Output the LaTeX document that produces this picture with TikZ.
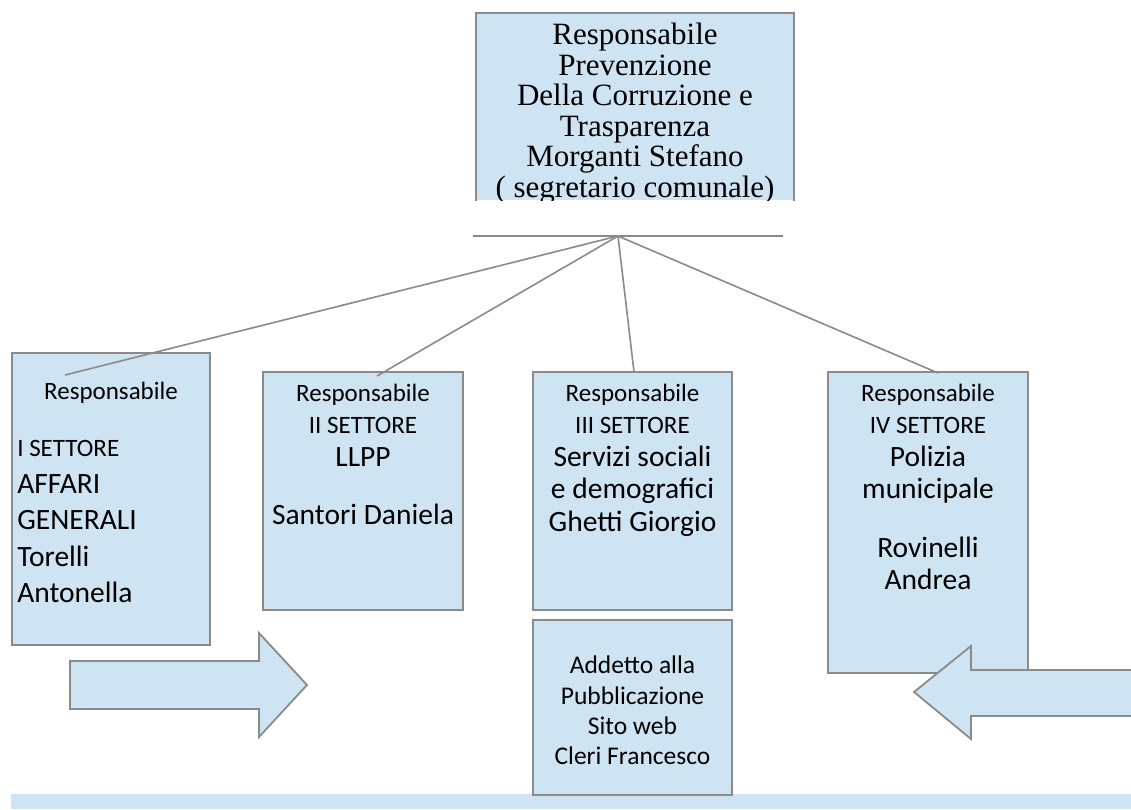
\documentclass[tikz,border=0pt]{standalone}
\usepackage{fontspec}
\setmainfont{Carlito}
\newfontfamily\serifrm{Liberation Serif}
\usepackage{tikz}
\usetikzlibrary{positioning}
\definecolor{boxblue}{RGB}{207,228,242}
\definecolor{linegray}{RGB}{138,138,138}
\newcommand{\bigtxt}[1]{{\fontsize{29.5}{36}\selectfont #1}}

\begin{document}
\begin{tikzpicture}[
    x=1pt, y=-1pt,
    box/.style={draw=linegray, line width=1.8pt, fill=boxblue, inner sep=0pt},
    txt/.style={inner sep=0pt, align=center, font=\fontsize{25}{32.5}\selectfont},
    conn/.style={draw=linegray, line width=1.6pt},
    blockarrow/.style={draw=linegray, line width=1.8pt, fill=boxblue}
  ]
  \useasboundingbox (0,0) rectangle (1131,809);
  \fill[boxblue] (11,794) rectangle (1131,809);

  % responsabile anticorruzione
  \node[box, draw=none, minimum width=316pt, minimum height=186pt] (rpct) at (635,107) {};
  \draw[box, fill=none] (rpct.south west) -- (rpct.north west) -- (rpct.north east) -- (rpct.south east);
  \begin{scope}
    \clip (rpct.south west) rectangle (rpct.north east);
    \node[txt, font=\serifrm\fontsize{31}{30.5}\selectfont, below=10pt of rpct.north] (rpcttxt)
      {Responsabile\\Prevenzione\\Della Corruzione e\\Trasparenza\\Morganti Stefano\\( segretario comunale)};
  \end{scope}

  \coordinate (hl) at (473,236);
  \coordinate (hr) at (783,236);
  \coordinate (apex) at (618,236);
  \draw[conn, line width=1.2pt] (hl) -- (hr);

  % settori
  \node[box, minimum width=198pt, minimum height=292pt] (s1) at (111,499) {};
  \node[box, minimum width=200pt, minimum height=238pt] (s2) at (363,491) {};
  \node[box, minimum width=199pt, minimum height=238pt] (s3) at (632.5,491) {};
  \node[box, minimum width=200pt, minimum height=301pt] (s4) at (928,522.5) {};
  \node[box, minimum width=199pt, minimum height=175pt, below=8pt of s3] (pub) {};

  \node[txt, below=29.5pt of s1.north] (t1a) {Responsabile};
  \node[txt, align=left, font=\fontsize{25}{36.5}\selectfont, below right=88pt and 6pt of s1.north west] (t1b)
    {I SETTORE\\\bigtxt{AFFARI}\\\bigtxt{GENERALI}\\\bigtxt{Torelli}\\\bigtxt{Antonella}};
  \node[txt, below=12.5pt of s2.north] (t2)
    {Responsabile\\II SETTORE\\\bigtxt{LLPP}\\[25.5pt]\bigtxt{Santori Daniela}};
  \node[txt, below=12.5pt of s3.north] (t3)
    {Responsabile\\III SETTORE\\\bigtxt{Servizi sociali}\\\bigtxt{e demografici}\\\bigtxt{Ghetti Giorgio}};
  \node[txt, below=12.5pt of s4.north] (t4)
    {Responsabile\\IV SETTORE\\\bigtxt{Polizia}\\\bigtxt{municipale}\\[26pt]\bigtxt{Rovinelli}\\\bigtxt{Andrea}};
  \node[txt, font=\fontsize{25.5}{30.3}\selectfont, below=37pt of pub.north] (tpub)
    {Addetto alla\\Pubblicazione\\Sito web\\Cleri Francesco};

  % collegamenti
  \coordinate (e1) at (65,375);
  \coordinate (e2) at (377,376);
  \coordinate (e3) at (634,372);
  \coordinate (e4) at (938,373);
  \foreach \e in {e1,e2,e3,e4}
    \draw[conn] (apex) -- (\e);

  % frecce
  \filldraw[blockarrow] (70,661) -- (259,661) -- (259,633) -- (307,685) -- (259,737) -- (259,709) -- (70,709) -- cycle;
  \fill[boxblue] (1131,670) -- (971,670) -- (971,646) -- (914,692) -- (971,739) -- (971,716) -- (1131,716) -- cycle;
  \draw[blockarrow, fill=none] (1131,670) -- (971,670) -- (971,646) -- (914,692) -- (971,739) -- (971,716) -- (1131,716);
\end{tikzpicture}
\end{document}
